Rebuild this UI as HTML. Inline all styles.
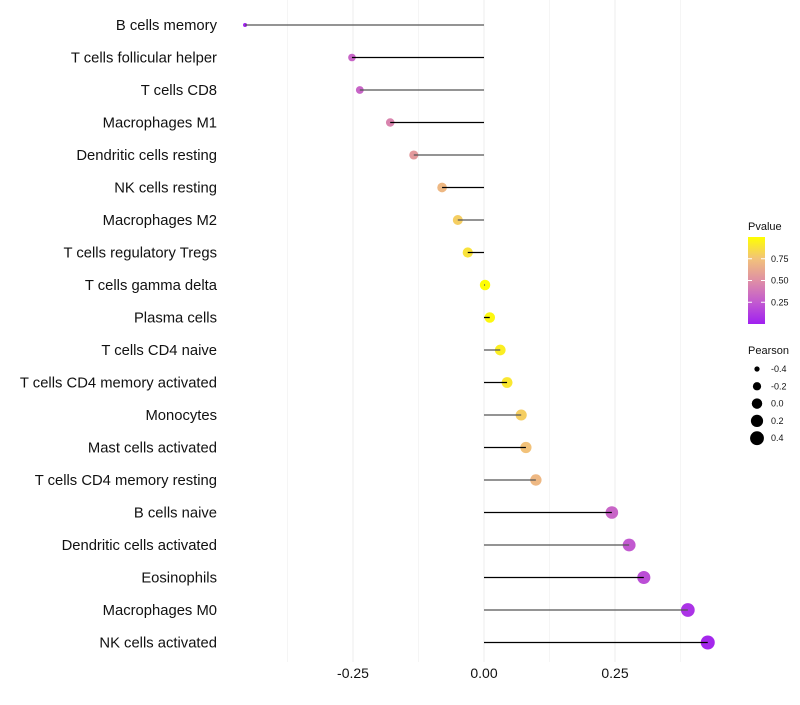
<!DOCTYPE html>
<html><head><meta charset="utf-8"><style>
body{margin:0;background:#fff;font-family:"Liberation Sans",sans-serif}
</style></head><body>
<svg id="c" width="800" height="700" xmlns="http://www.w3.org/2000/svg" font-family="Liberation Sans, sans-serif"></svg>
<script>
const categories=["B cells memory","T cells follicular helper","T cells CD8","Macrophages M1","Dendritic cells resting","NK cells resting","Macrophages M2","T cells regulatory  Tregs ","T cells gamma delta","Plasma cells","T cells CD4 naive","T cells CD4 memory activated","Monocytes","Mast cells activated","T cells CD4 memory resting","B cells naive","Dendritic cells activated","Eosinophils","Macrophages M0","NK cells activated"];
const pearson=[-0.456,-0.252,-0.237,-0.179,-0.134,-0.080,-0.050,-0.031,0.002,0.011,0.031,0.044,0.071,0.080,0.099,0.244,0.277,0.305,0.389,0.427];
const pvalue=[0.0,0.3,0.3,0.45,0.55,0.7,0.8,0.88,0.99,0.97,0.93,0.9,0.8,0.75,0.7,0.3,0.25,0.2,0.08,0.03];
const xTicks=[-0.25,0,0.25];
const xTickLabels=["-0.25","0.00","0.25"];
const xMinor=[-0.375,-0.125,0.125,0.375];
const sizeLegend=[-0.4,-0.2,0.0,0.2,0.4];
const sizeLegendLabels=["-0.4","-0.2","0.0","0.2","0.4"];
const colorLegend=[0.25,0.5,0.75];
const colorLegendLabels=["0.25","0.50","0.75"];

const NS="http://www.w3.org/2000/svg",svg=document.getElementById('c');
function el(t,a,p){const e=document.createElementNS(NS,t);for(const k in a)e.setAttribute(k,a[k]);(p||svg).appendChild(e);return e;}
const x=v=>484+v*524;
const y=i=>25+i*32.5;
const r=v=>Math.sqrt(Math.max(3,27.3+51*v));
const stops=[[0,[160,32,240]],[0.25,[194,90,208]],[0.5,[223,143,165]],[0.75,[242,194,122]],[1,[255,255,0]]];
function col(p){for(let i=1;i<stops.length;i++){if(p<=stops[i][0]){const a=stops[i-1],b=stops[i],t=(p-a[0])/(b[0]-a[0]);return 'rgb('+a[1].map((c,j)=>Math.round(c+(b[1][j]-c)*t)).join(',')+')';}}return 'rgb(255,255,0)';}

xMinor.forEach(v=>{const g=el('line',{x1:x(v),x2:x(v),y1:0,y2:662,stroke:'#f5f5f5','stroke-width':1});

});
xTicks.forEach((v,i)=>{const g=el('line',{x1:x(v),x2:x(v),y1:0,y2:662,stroke:'#efefef','stroke-width':1.2});


const t=el('text',{x:x(v),y:678,'text-anchor':'middle','font-size':14,fill:'#111'});t.textContent=xTickLabels[i];

});

categories.forEach((c,i)=>{
const t=el('text',{x:217,y:y(i)+5,'text-anchor':'end','font-size':14.8,fill:'#111'});t.textContent=c;


const d=el('circle',{cx:x(pearson[i]),cy:y(i),r:r(pearson[i]),fill:col(pvalue[i])});


const s=el('line',{x1:x(0),x2:x(pearson[i]),y1:y(i),y2:y(i),stroke:i%2?'#000':'#555','stroke-width':1.3});


});

const lt=el('text',{x:748,y:230,'font-size':11,fill:'#111'});lt.textContent='Pvalue';


const defs=el('defs',{});const lg=el('linearGradient',{id:'g',x1:0,y1:1,x2:0,y2:0},defs);
stops.forEach(s=>el('stop',{offset:s[0],'stop-color':col(s[0])},lg));
const bar=el('rect',{x:748,y:237,width:17,height:87,fill:'url(#g)'});


const cy=p=>324-p*87;
colorLegend.forEach((p,i)=>{el('line',{x1:748,x2:752,y1:cy(p),y2:cy(p),stroke:'#fff'});el('line',{x1:761,x2:765,y1:cy(p),y2:cy(p),stroke:'#fff'});
const t=el('text',{x:771,y:cy(p)+3,'font-size':9,fill:'#111'});t.textContent=colorLegendLabels[i];

});

const st=el('text',{x:748,y:354,'font-size':11,fill:'#111'});st.textContent='Pearson';


sizeLegend.forEach((v,i)=>{const yy=369+i*17.3;
const c=el('circle',{cx:757,cy:yy,r:r(v),fill:'#000'});


const t=el('text',{x:771,y:yy+3,'font-size':9,fill:'#111'});t.textContent=sizeLegendLabels[i];

});
</script>
</body></html>
